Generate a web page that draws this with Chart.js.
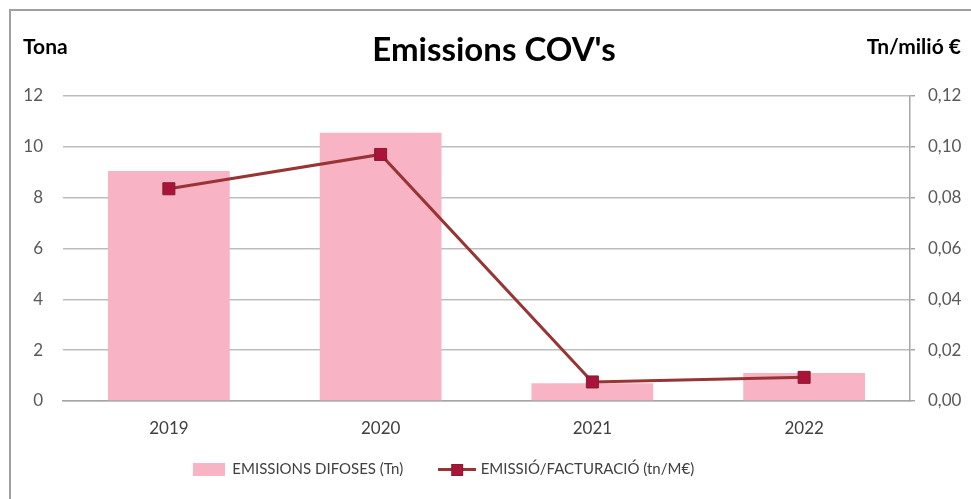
<!DOCTYPE html>
<html>
<head>
<meta charset="utf-8">
<script src="https://cdn.jsdelivr.net/npm/chart.js@4.4.1/dist/chart.umd.min.js"></script>
<style>
  html, body { margin: 0; padding: 0; background: #fff; }
  #wrap { width: 971px; height: 499px; position: relative; }
</style>
</head>
<body>
<div id="wrap"><canvas id="covChart" width="971" height="499"></canvas></div>
<script>
// Emissions COV's — bars (tones) + ratio line (tn / M€)

const years = ["2019", "2020", "2021", "2022"];
const emissionsTn = [9.05, 10.55, 0.7, 1.1];
const emissionRatio = [0.0835, 0.097, 0.0075, 0.0093];
const leftTicks = [0, 2, 4, 6, 8, 10, 12];
const rightTicks = [0, 0.02, 0.04, 0.06, 0.08, 0.10, 0.12];

const FONT = "Lato, 'Open Sans', sans-serif";
const barColor = "#F8B3C5";
const lineColor = "#983434";
const markerColor = "#A8143A";

// legend swatches as small images
function barSwatch() {
  const c = document.createElement("canvas");
  c.width = 32; c.height = 13;
  const g = c.getContext("2d");
  g.fillStyle = barColor;
  g.fillRect(0, 0, 32, 13);
  return c;
}
function lineSwatch() {
  const c = document.createElement("canvas");
  c.width = 38; c.height = 13;
  const g = c.getContext("2d");
  g.strokeStyle = lineColor;
  g.lineWidth = 3;
  g.beginPath(); g.moveTo(0, 6.5); g.lineTo(38, 6.5); g.stroke();
  g.fillStyle = markerColor;
  g.fillRect(13, 1, 12, 12);
  g.strokeStyle = "#8a1a2e";
  g.lineWidth = 1;
  g.strokeRect(13.5, 1.5, 11, 11);
  return c;
}

const fmtComma = v => v.toFixed(2).replace(".", ",");

const decorations = {
  id: "decorations",
  afterLayout(chart) {
    // legend sits a bit left of centre and higher in the original
    const lg = chart.legend;
    lg.right -= 84;
    lg.top -= 12;
    lg.bottom -= 12;
  },
  beforeDraw(chart) {
    const ctx = chart.ctx;
    ctx.save();
    ctx.strokeStyle = "#a0a0a0";
    ctx.lineWidth = 2;
    ctx.beginPath();
    ctx.moveTo(10, 499); ctx.lineTo(10, 10); ctx.lineTo(971, 10);
    ctx.stroke();
    ctx.restore();
  },
  afterDraw(chart) {
    const ctx = chart.ctx;
    ctx.save();
    ctx.fillStyle = "#000";
    ctx.textBaseline = "middle";
    ctx.font = "bold 33px " + FONT;
    ctx.textAlign = "center";
    ctx.fillText("Emissions COV's", 494, 50);
    ctx.font = "bold 21px " + FONT;
    ctx.textAlign = "left";
    ctx.fillText("Tona", 23, 47);
    ctx.textAlign = "right";
    ctx.fillText("Tn/milió €", 961, 47);
    ctx.restore();
  }
};

new Chart(document.getElementById("covChart"), {
  data: {
    labels: years,
    datasets: [
      {
        type: "line",
        label: "EMISSIÓ/FACTURACIÓ (tn/M€)",
        data: emissionRatio,
        yAxisID: "y1",
        borderColor: lineColor,
        borderWidth: 3,
        pointStyle: "rect",
        pointRadius: 8.5,
        pointBackgroundColor: markerColor,
        pointBorderColor: "#8a1a2e",
        pointBorderWidth: 1,
        tension: 0,
        order: 0
      },
      {
        type: "bar",
        label: "EMISSIONS DIFOSES (Tn)",
        data: emissionsTn,
        yAxisID: "y",
        backgroundColor: barColor,
        categoryPercentage: 1,
        barPercentage: 0.575,
        order: 1
      }
    ]
  },
  options: {
    responsive: false,
    animation: false,
    layout: { padding: { top: 96, bottom: 0, left: 0, right: 0 } },
    plugins: {
      title: { display: false },
      tooltip: { enabled: false },
      legend: {
        position: "bottom",
        labels: {
          usePointStyle: true,
          pointStyleWidth: 32,
          padding: 38,
          color: "#404040",
          font: { family: FONT, size: 15 },
          generateLabels(chart) {
            return [
              { text: "EMISSIONS DIFOSES (Tn)", pointStyle: barSwatch(), datasetIndex: 1, fontColor: "#404040", lineWidth: 0, strokeStyle: "transparent" },
              { text: "EMISSIÓ/FACTURACIÓ (tn/M€)", pointStyle: lineSwatch(), datasetIndex: 0, fontColor: "#404040", lineWidth: 0, strokeStyle: "transparent" }
            ];
          }
        }
      }
    },
    scales: {
      x: {
        grid: { display: false, drawTicks: false },
        border: { display: true, color: "#a6a6a6", width: 1.5 },
        ticks: { color: "#404040", padding: 17, font: { family: FONT, size: 17 } },
        afterFit(s) { s.height = 35; }
      },
      y: {
        position: "left",
        min: 0,
        max: 12,
        afterBuildTicks(s) { s.ticks = leftTicks.map(v => ({ value: v })); },
        grid: { color: "#bdbdbd", lineWidth: 1.5, drawTicks: false },
        border: { display: false },
        ticks: { color: "#595959", padding: 20, font: { family: FONT, size: 17 } },
        afterFit(s) { s.width = 63; }
      },
      y1: {
        position: "right",
        min: 0,
        max: 0.12,
        afterBuildTicks(s) { s.ticks = rightTicks.map(v => ({ value: v })); },
        grid: { drawOnChartArea: false, drawTicks: true, tickLength: 5, color: "#a6a6a6", lineWidth: 1.5 },
        border: { display: true, color: "#a6a6a6", width: 1.5 },
        ticks: { color: "#595959", padding: 13, font: { family: FONT, size: 17 }, callback: v => fmtComma(v) },
        afterFit(s) { s.width = 61; }
      }
    }
  },
  plugins: [decorations]
});
</script>
</body>
</html>
